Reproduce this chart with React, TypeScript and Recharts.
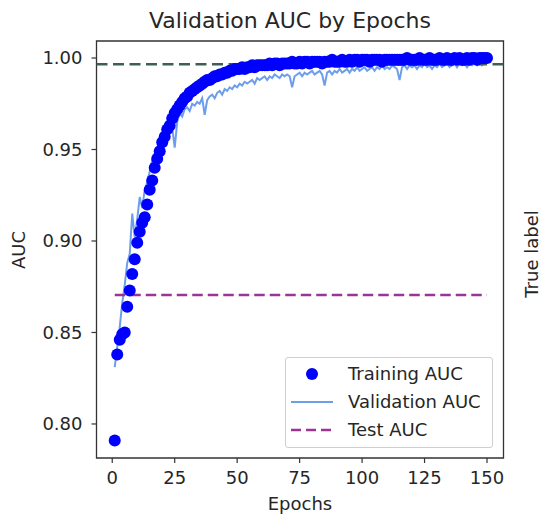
import React from 'react';
import {
  ComposedChart,
  Line,
  XAxis,
  YAxis,
  ReferenceLine,
  ReferenceArea,
} from 'recharts';

// Values (epochs 1..150)
const trainAuc = [
  0.791, 0.838, 0.846, 0.849, 0.850, 0.864, 0.873, 0.882, 0.890, 0.899,
  0.905, 0.910, 0.913, 0.920, 0.928, 0.933, 0.940, 0.945, 0.949, 0.954,
  0.957, 0.961, 0.963, 0.967, 0.970, 0.972, 0.974, 0.976, 0.978, 0.979,
  0.981, 0.982, 0.983, 0.984, 0.985, 0.986, 0.987, 0.988, 0.988, 0.989,
  0.990, 0.990, 0.991, 0.991, 0.992, 0.992, 0.993, 0.993, 0.994, 0.994,
  0.994, 0.995, 0.994, 0.995, 0.995, 0.996, 0.995, 0.996, 0.996, 0.996,
  0.996, 0.996, 0.997, 0.996, 0.997, 0.997, 0.996, 0.997, 0.997, 0.997,
  0.997, 0.998, 0.997, 0.997, 0.998, 0.997, 0.998, 0.998, 0.997, 0.998,
  0.998, 0.998, 0.998, 0.997, 0.998, 0.998, 0.998, 0.999, 0.998, 0.998,
  0.998, 0.999, 0.998, 0.998, 0.999, 0.998, 0.999, 0.999, 0.998, 0.999,
  0.999, 0.999, 0.998, 0.999, 0.999, 0.999, 0.999, 0.998, 0.999, 0.999,
  0.999, 0.999, 0.999, 0.999, 0.999, 0.999, 0.999, 1.000, 0.999, 0.999,
  0.999, 0.999, 1.000, 0.999, 0.999, 0.999, 1.000, 0.999, 0.999, 0.999,
  1.000, 0.999, 0.999, 1.000, 0.999, 0.999, 1.000, 0.999, 1.000, 0.999,
  0.999, 1.000, 0.999, 1.000, 1.000, 0.999, 1.000, 1.000, 1.000, 1.000,
];

const valAuc = [
  0.831, 0.842, 0.853, 0.866, 0.876, 0.888, 0.893, 0.915, 0.902, 0.912,
  0.924, 0.918, 0.928, 0.932, 0.938, 0.944, 0.948, 0.951, 0.947, 0.955,
  0.958, 0.960, 0.963, 0.962, 0.951, 0.965, 0.970, 0.968, 0.972, 0.973,
  0.971, 0.975, 0.974, 0.976, 0.975, 0.978, 0.969, 0.977, 0.979, 0.980,
  0.978, 0.981, 0.982, 0.980, 0.983, 0.982, 0.984, 0.983, 0.985, 0.984,
  0.986, 0.985, 0.987, 0.986, 0.987, 0.988, 0.986, 0.989, 0.988, 0.989,
  0.990, 0.988, 0.990, 0.989, 0.991, 0.990, 0.989, 0.991, 0.990, 0.991,
  0.990, 0.984, 0.990, 0.991, 0.992, 0.990, 0.992, 0.991, 0.992, 0.993,
  0.991, 0.992, 0.993, 0.991, 0.985, 0.992, 0.993, 0.991, 0.993, 0.992,
  0.994, 0.992, 0.993, 0.994, 0.992, 0.994, 0.993, 0.995, 0.993, 0.994,
  0.995, 0.993, 0.994, 0.995, 0.993, 0.995, 0.994, 0.996, 0.994, 0.995,
  0.994, 0.996, 0.995, 0.994, 0.988, 0.995, 0.996, 0.994, 0.996, 0.995,
  0.996, 0.994, 0.996, 0.995, 0.997, 0.995, 0.996, 0.994, 0.996, 0.995,
  0.997, 0.995, 0.996, 0.997, 0.995, 0.996, 0.997, 0.995, 0.997, 0.996,
  0.997, 0.995, 0.997, 0.996, 0.997, 0.996, 0.998, 0.996, 0.997, 0.997,
];

const TEST_AUC = 0.8705;
const REF_AUC = 0.9966;
const epochTicks = [0, 25, 50, 75, 100, 125, 150];
const aucTicks = [0.8, 0.85, 0.9, 0.95, 1.0];

const X_DOMAIN: [number, number] = [-6.3, 156.6];
const Y_DOMAIN: [number, number] = [0.7814, 1.0093];

const FONT = '"DejaVu Sans", sans-serif';
const TEXT = '#262626';
const TRAIN_COLOR = '#0000ff';
const VAL_COLOR = '#6d9eeb';
const TEST_COLOR = '#9a3596';
const REF_COLOR = '#3f5f55';

const rows = trainAuc.map((t, i) => ({ epoch: i + 1, train: t, val: valAuc[i] }));

function LegendRow({ top, kind, label }: { top: number; kind: 'dot' | 'line' | 'dash'; label: string }) {
  return (
    <div style={{ position: 'absolute', left: 0, top, width: '100%', height: 28 }}>
      <svg width={42} height={14} style={{ position: 'absolute', left: 5, top: 7 }}>
        {kind === 'dot' && <circle cx={21} cy={7} r={6} fill={TRAIN_COLOR} />}
        {kind === 'line' && <line x1={0} y1={7} x2={42} y2={7} stroke={VAL_COLOR} strokeWidth={2} />}
        {kind === 'dash' && (
          <line x1={0} y1={7} x2={42} y2={7} stroke={TEST_COLOR} strokeWidth={2.5} strokeDasharray="10 5" />
        )}
      </svg>
      <span
        style={{
          position: 'absolute',
          left: 62,
          top: 5,
          fontSize: 18,
          lineHeight: 1,
          whiteSpace: 'nowrap',
          color: TEXT,
        }}
      >
        {label}
      </span>
    </div>
  );
}

export default function App() {
  const tickStyle = { fill: TEXT, fontSize: 18, fontFamily: FONT };
  return (
    <div
      style={{
        position: 'absolute',
        left: 0,
        top: 0,
        width: 541,
        height: 518,
        background: '#fff',
        fontFamily: FONT,
      }}
    >
      <div
        style={{
          position: 'absolute',
          left: 290,
          top: 10,
          transform: 'translateX(-50%)',
          fontSize: 22,
          lineHeight: 1,
          whiteSpace: 'nowrap',
          color: TEXT,
        }}
      >
        Validation AUC by Epochs
      </div>

      <ComposedChart
        width={541}
        height={518}
        data={rows}
        margin={{ top: 41, right: 37.5, bottom: 30, left: 36.5 }}
      >
        <XAxis
          dataKey="epoch"
          type="number"
          domain={X_DOMAIN}
          allowDataOverflow
          ticks={epochTicks}
          height={30}
          axisLine={false}
          tickLine={{ stroke: '#333', strokeWidth: 1.2 }}
          tickSize={5}
          tickMargin={8}
          tick={tickStyle}
        />
        <YAxis
          type="number"
          domain={Y_DOMAIN}
          allowDataOverflow
          ticks={aucTicks}
          width={60}
          axisLine={false}
          tickLine={{ stroke: '#333', strokeWidth: 1.2 }}
          tickSize={5}
          tickMargin={9}
          tick={tickStyle}
          tickFormatter={(v: number) => v.toFixed(2)}
        />
        <Line
          dataKey="train"
          stroke="none"
          dot={{ r: 6, fill: TRAIN_COLOR, stroke: 'none' }}
          activeDot={false}
          isAnimationActive={false}
        />
        <Line
          dataKey="val"
          type="linear"
          stroke={VAL_COLOR}
          strokeWidth={2}
          dot={false}
          activeDot={false}
          isAnimationActive={false}
        />
        <ReferenceLine
          segment={[
            { x: 1, y: TEST_AUC },
            { x: 150, y: TEST_AUC },
          ]}
          stroke={TEST_COLOR}
          strokeWidth={2.5}
          strokeDasharray="10.5 5"
        />
        <ReferenceLine y={REF_AUC} stroke={REF_COLOR} strokeWidth={2.5} strokeDasharray="11 5.5" />
        <ReferenceArea
          x1={X_DOMAIN[0]}
          x2={X_DOMAIN[1]}
          y1={Y_DOMAIN[0]}
          y2={Y_DOMAIN[1]}
          fill="none"
          stroke="#333"
          strokeWidth={1.3}
          ifOverflow="visible"
        />
      </ComposedChart>

      <div
        style={{
          position: 'absolute',
          left: 19,
          top: 250,
          transform: 'translate(-50%, -50%) rotate(-90deg)',
          fontSize: 18,
          lineHeight: 1,
          whiteSpace: 'nowrap',
          color: TEXT,
        }}
      >
        AUC
      </div>
      <div
        style={{
          position: 'absolute',
          left: 300,
          top: 495,
          transform: 'translateX(-50%)',
          fontSize: 18,
          lineHeight: 1,
          whiteSpace: 'nowrap',
          color: TEXT,
        }}
      >
        Epochs
      </div>
      <div
        style={{
          position: 'absolute',
          left: 532,
          top: 254,
          transform: 'translate(-50%, -50%) rotate(-90deg)',
          fontSize: 18,
          lineHeight: 1,
          whiteSpace: 'nowrap',
          color: TEXT,
        }}
      >
        True label
      </div>

      <div
        style={{
          position: 'absolute',
          left: 285,
          top: 357,
          width: 208,
          height: 91,
          boxSizing: 'border-box',
          border: '1px solid #cfcfcf',
          borderRadius: 3,
          background: 'rgba(255,255,255,0.85)',
        }}
      >
        <LegendRow top={2} kind="dot" label="Training AUC" />
        <LegendRow top={30} kind="line" label="Validation AUC" />
        <LegendRow top={58} kind="dash" label="Test AUC" />
      </div>
    </div>
  );
}
